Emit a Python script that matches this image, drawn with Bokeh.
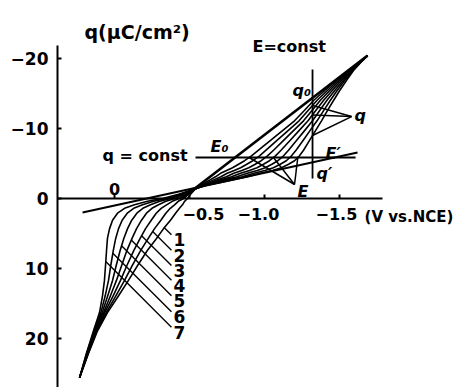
import numpy as np
from bokeh.plotting import figure
from bokeh.models import (Range1d, LinearAxis, FixedTicker, Label,
                          ColumnDataSource, CustomJSTickFormatter)
from bokeh.core.properties import value
from bokeh.embed import file_html
from bokeh.resources import INLINE

FONT = "DejaVu Sans"

# ---- charge–potential curves 1..7 -------------------------------------------
# anodic branch: shared charge levels (uC/cm2), potential of each curve (V vs NCE)
q_anodic = [25.6, 22.1, 18.9, 16.3, 13.9, 11.7, 9.6, 7.4, 5.7, 4.3, 3.1, 2.1,
            1.4, 0.9, 0.4, 0.0, -0.6, -1.4]
E_anodic = [
    [0.233, 0.173, 0.113, 0.047, -0.027, -0.093, -0.153, -0.220, -0.280, -0.327, -0.373, -0.407, -0.433, -0.453, -0.467, -0.487, -0.507, -0.540],
    [0.233, 0.175, 0.118, 0.055, -0.009, -0.067, -0.118, -0.175, -0.225, -0.267, -0.309, -0.342, -0.372, -0.400, -0.425, -0.459, -0.493, -0.540],
    [0.233, 0.178, 0.122, 0.065, 0.009, -0.040, -0.082, -0.129, -0.171, -0.207, -0.245, -0.278, -0.311, -0.347, -0.385, -0.431, -0.480, -0.540],
    [0.233, 0.180, 0.127, 0.073, 0.027, -0.013, -0.047, -0.083, -0.117, -0.147, -0.180, -0.213, -0.250, -0.293, -0.343, -0.403, -0.467, -0.540],
    [0.233, 0.182, 0.131, 0.082, 0.045, 0.013, -0.011, -0.038, -0.062, -0.087, -0.115, -0.149, -0.189, -0.240, -0.302, -0.375, -0.453, -0.540],
    [0.233, 0.185, 0.135, 0.091, 0.062, 0.040, 0.025, 0.008, -0.008, -0.027, -0.051, -0.085, -0.128, -0.187, -0.261, -0.348, -0.440, -0.540],
    [0.233, 0.187, 0.140, 0.100, 0.080, 0.067, 0.060, 0.053, 0.047, 0.033, 0.013, -0.020, -0.067, -0.133, -0.220, -0.320, -0.427, -0.540],
]
# cathodic branch: shared charge levels, potential of each curve
q_cathodic = [-1.4, -1.9, -2.3, -2.7, -3.1, -3.6, -4.0, -4.4, -4.9, -5.4, -6.1,
              -6.9, -8.3, -9.7, -11.1, -12.6, -14.0, -15.4, -16.9, -18.3, -19.4, -20.4]
E_cathodic = [
    [-0.540, -0.573, -0.607, -0.640, -0.673, -0.707, -0.747, -0.787, -0.827, -0.867, -0.913, -0.960, -1.040, -1.120, -1.200, -1.267, -1.327, -1.400, -1.480, -1.563, -1.630, -1.687],
    [-0.540, -0.580, -0.623, -0.665, -0.709, -0.751, -0.798, -0.841, -0.882, -0.922, -0.967, -1.010, -1.083, -1.157, -1.230, -1.292, -1.349, -1.417, -1.491, -1.569, -1.632, -1.687],
    [-0.540, -0.587, -0.640, -0.691, -0.745, -0.795, -0.849, -0.895, -0.938, -0.978, -1.020, -1.060, -1.127, -1.193, -1.260, -1.318, -1.371, -1.433, -1.502, -1.573, -1.633, -1.687],
    [-0.540, -0.593, -0.657, -0.717, -0.780, -0.840, -0.900, -0.950, -0.993, -1.033, -1.073, -1.110, -1.170, -1.230, -1.290, -1.343, -1.393, -1.450, -1.513, -1.579, -1.635, -1.687],
    [-0.540, -0.600, -0.673, -0.742, -0.815, -0.885, -0.951, -1.005, -1.049, -1.089, -1.127, -1.160, -1.213, -1.267, -1.320, -1.369, -1.415, -1.467, -1.525, -1.583, -1.637, -1.687],
    [-0.540, -0.607, -0.690, -0.768, -0.851, -0.929, -1.002, -1.059, -1.105, -1.145, -1.180, -1.210, -1.257, -1.303, -1.350, -1.395, -1.438, -1.483, -1.535, -1.589, -1.639, -1.687],
    [-0.540, -0.613, -0.707, -0.793, -0.887, -0.973, -1.053, -1.113, -1.160, -1.200, -1.233, -1.260, -1.300, -1.340, -1.380, -1.420, -1.460, -1.500, -1.547, -1.593, -1.640, -1.687],
]
curve_names = ["1", "2", "3", "4", "5", "6", "7"]

# ---- construction lines -------------------------------------------------------
tangent_E = [0.213, -1.620]          # common tangent through the crossing point
tangent_q = [2.0, -6.57]
envelope_E = [-0.440, -1.687]        # upper envelope line
envelope_q = [0.14, -20.43]
q_const = -5.86                      # q = const line
q_const_E = [-0.540, -1.607]
E_const = -1.32                      # E = const line
E_const_q = [-18.43, -2.86]
q_marked = [1, 3, 6]                 # curves whose charge at E = const is marked
E_marked = [0, 3, 6]                 # curves whose potential at q = const is marked

# ---- axes -------------------------------------------------------------------------
y_ticks = [-20, -10, 0, 10, 20]
y_tick_labels = {-20: "\u221220", -10: "\u221210", 0: "0", 10: "10", 20: "20"}
x_ticks = [0.0, -0.5, -1.0, -1.5]
x_label_ticks = [-0.5, -1.0, -1.5]
x_tick_labels = ["\u22120.5", "\u22121.0", "\u22121.5"]
x_label_shift = [-7, -27, -24]       # screen shift of each label from its tick
x_unit = "(V vs.NCE)"

X0, X1, Y0, Y1 = 0.38, -2.293, 27.0, -28.29
W, H, LEFT = 458, 387, 57
p = figure(width=W, height=H,
           x_range=Range1d(X0, X1), y_range=Range1d(Y0, Y1),
           output_backend="svg", toolbar_location=None,
           x_axis_location=None, y_axis_location="left",
           min_border_left=LEFT, min_border_right=0,
           min_border_top=0, min_border_bottom=0)
p.outline_line_color = None
p.xgrid.visible = False
p.ygrid.visible = False
p.background_fill_color = "white"
p.border_fill_color = "white"
px_per_E = (W - LEFT) / (X0 - X1)     # screen pixels per volt
px_per_q = H / (Y0 - Y1)              # screen pixels per uC/cm2

ya = p.yaxis[0]
ya.ticker = FixedTicker(ticks=y_ticks)
ya.major_label_overrides = y_tick_labels
ya.bounds = (-21.9, 27.0)
ya.axis_line_width = 2
ya.major_tick_in = 4
ya.major_tick_out = 0
ya.major_tick_line_width = 2
ya.minor_tick_line_color = None
ya.major_label_standoff = 9
ya.major_label_text_font = FONT
ya.major_label_text_font_style = "bold"
ya.major_label_text_font_size = "17px"
ya.major_label_text_color = "black"

xa = LinearAxis(fixed_location=0, ticker=FixedTicker(ticks=x_ticks),
                bounds=(-1.787, 0.38),
                formatter=CustomJSTickFormatter(code="return ''"))
xa.axis_line_width = 2
xa.major_tick_in = 4
xa.major_tick_out = 0
xa.major_tick_line_width = 2
xa.minor_tick_line_color = None
p.add_layout(xa, "below")

# ---- curves and construction lines ------------------------------------------------
xs = [ea + ec[1:] for ea, ec in zip(E_anodic, E_cathodic)]
ys = [q_anodic + q_cathodic[1:] for _ in E_anodic]
p.multi_line(xs=xs, ys=ys, line_color="black", line_width=1.6,
             line_join="round")

p.line(tangent_E, tangent_q, line_color="black", line_width=2)
p.line(envelope_E, envelope_q, line_color="black", line_width=2.6)
p.line(q_const_E, [q_const, q_const], line_color="black", line_width=1.8)
p.line([E_const, E_const], E_const_q, line_color="black", line_width=1.8)

# ---- leader lines from the curve numbers, drawn at 45 deg up-left ---------------
num_E = -0.393
num_q = [5.9, 8.1, 10.3, 12.4, 14.6, 16.9, 19.1]
lead_xs, lead_ys = [], []
steps = np.linspace(0, 120, 2401)
for k, ea in enumerate(E_anodic):
    e0 = num_E + 2 / px_per_E
    q0 = num_q[k] - 5 / px_per_q
    el = e0 + steps / px_per_E
    ql = q0 - steps / px_per_q
    ec = np.interp(ql, q_anodic[::-1], ea[::-1])
    hit = np.nonzero(el >= ec)[0]
    i = hit[0] if len(hit) else len(steps) - 1
    lead_xs.append([e0, float(el[i])])
    lead_ys.append([q0, float(ql[i])])
p.multi_line(xs=lead_xs, ys=lead_ys, line_color="black", line_width=1.4)

p.text(x=[num_E] * 7, y=num_q, text=curve_names, text_font=value(FONT),
       text_font_style="bold", text_font_size="17px",
       text_align="left", text_baseline="middle", text_color="black")

# ---- pointers from the "q" and "E" symbols ----------------------------------------
q_sym = (-1.58, -11.71)
E_sym = (-1.20, -2.0)
ptr_xs, ptr_ys = [], []
for k in q_marked:
    qk = float(np.interp(E_const, E_cathodic[k][::-1], q_cathodic[::-1]))
    ptr_xs.append([q_sym[0], E_const])
    ptr_ys.append([q_sym[1], qk])
for k in E_marked:
    ek = float(np.interp(q_const, q_cathodic[::-1], E_cathodic[k][::-1]))
    ptr_xs.append([E_sym[0], ek])
    ptr_ys.append([E_sym[1], q_const])
p.multi_line(xs=ptr_xs, ys=ptr_ys, line_color="black", line_width=1.5)

# ---- x tick labels drawn below the axis line ------------------------------------
src = ColumnDataSource(dict(x=x_label_ticks, y=[0.0] * 3, t=x_tick_labels,
                            dx=x_label_shift))
p.text(x="x", y="y", text="t", x_offset="dx", y_offset=9, source=src,
       text_font=value(FONT), text_font_style="bold", text_font_size="16px",
       text_align="left", text_baseline="top", text_color="black")


def lab(x, y, t, size="16px", style="bold", align="left", baseline="middle"):
    p.add_layout(Label(x=x, y=y, text=t, text_font=FONT,
                       text_font_style=style, text_font_size=size,
                       text_align=align, text_baseline=baseline,
                       text_color="black"))


lab(-1.667, 1.29, x_unit, size="15px", baseline="top")
lab(0.0, -1.43, "0", align="center")
lab(0.20, -23.86, "q(\u03bcC/cm\u00b2)", size="19px")
lab(-0.92, -21.7, "E=const")
lab(-0.487, -6.14, "q = const", align="right")
lab(-0.64, -7.43, "E\u2080", style="bold italic")
lab(-1.187, -15.43, "q\u2080", style="bold italic")
lab(-1.60, -11.86, "q", style="bold italic")
lab(-1.407, -6.43, "E\u2032", style="bold italic")
lab(-1.347, -3.57, "q\u2032", style="bold italic")
lab(-1.22, -1.0, "E", style="bold italic")

open("out.html", "w").write(file_html(p, INLINE))
